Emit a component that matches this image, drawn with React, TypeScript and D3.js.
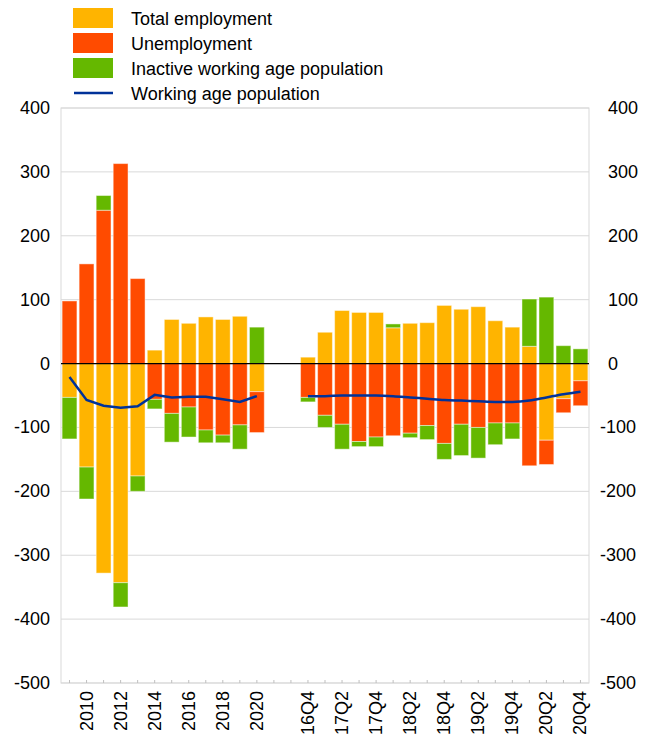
import React, { useRef, useEffect } from "react";
import * as d3 from "d3";

const annualLabels = ["2009", "2010", "2011", "2012", "2013", "2014", "2015", "2016", "2017", "2018", "2019", "2020"];
const quarterLabels = ["16Q4", "17Q1", "17Q2", "17Q3", "17Q4", "18Q1", "18Q2", "18Q3", "18Q4", "19Q1", "19Q2", "19Q3", "19Q4", "20Q1", "20Q2", "20Q3", "20Q4"];
const gapLabels = ["gap1", "gap2"];
const tickLabels = ["2010", "2012", "2014", "2016", "2018", "2020", "16Q4", "17Q2", "17Q4", "18Q2", "18Q4", "19Q2", "19Q4", "20Q2", "20Q4"];

const annualEmployment = [-53, -162, -328, -343, -176, 21, 69, 63, 73, 69, 74, -44];
const annualUnemployment = [98, 156, 240, 313, 133, -56, -78, -68, -104, -112, -96, -64];
const annualInactive = [-65, -50, 23, -38, -24, -15, -45, -47, -20, -12, -38, 57];
const annualWorkingAge = [-21, -57, -66, -69, -67, -49, -53, -52, -52, -56, -60, -51];

const quarterEmployment = [10, 49, 83, 80, 80, 56, 63, 64, 91, 85, 89, 67, 57, 27, -120, -55, -27];
const quarterUnemployment = [-53, -81, -95, -122, -115, -113, -109, -97, -125, -95, -100, -93, -93, -160, -38, -22, -39];
const quarterInactive = [-7, -19, -39, -8, -15, 6, -7, -22, -25, -49, -48, -34, -25, 74, 104, 28, 23];
const quarterWorkingAge = [-51, -51, -50, -50, -50, -51, -53, -55, -57, -58, -59, -60, -60, -58, -53, -48, -44];

const yTicks = [400, 300, 200, 100, 0, -100, -200, -300, -400, -500];

const seriesKeys = ["employment", "unemployment", "inactive"];
const seriesNames = ["Total employment", "Unemployment", "Inactive working age population"];
const seriesColors = ["#ffb400", "#ff4b00", "#65b800"];
const lineColor = "#003299";
const lineName = "Working age population";

const W = 652;
const H = 737;
const margin = { top: 108, right: 63, bottom: 54, left: 61 };
const font = "'Liberation Sans', Arial, Helvetica, sans-serif";

export default function App() {
  const ref = useRef<SVGSVGElement>(null);

  useEffect(() => {
    const svg = d3.select(ref.current);
    svg.selectAll("*").remove();

    const x0 = margin.left;
    const x1 = W - margin.right;
    const y0 = margin.top;
    const y1 = H - margin.bottom;

    const categories = [...annualLabels, ...gapLabels, ...quarterLabels];
    const x = d3.scaleBand<string>().domain(categories).range([x0, x1]).paddingInner(0.13).paddingOuter(0.065);
    const y = d3.scaleLinear().domain([-500, 400]).range([y1, y0]);

    const rows = [
      ...annualLabels.map((c, i) => ({
        cat: c,
        employment: annualEmployment[i],
        unemployment: annualUnemployment[i],
        inactive: annualInactive[i],
      })),
      ...quarterLabels.map((c, i) => ({
        cat: c,
        employment: quarterEmployment[i],
        unemployment: quarterUnemployment[i],
        inactive: quarterInactive[i],
      })),
    ];

    // gridlines
    svg
      .append("g")
      .selectAll("line")
      .data(yTicks)
      .join("line")
      .attr("x1", x0)
      .attr("x2", x1)
      .attr("y1", (d) => y(d))
      .attr("y2", (d) => y(d))
      .attr("stroke", "#d9d9d9")
      .attr("stroke-width", 1);

    // frame
    svg
      .append("rect")
      .attr("x", x0)
      .attr("y", y0)
      .attr("width", x1 - x0)
      .attr("height", y1 - y0)
      .attr("fill", "none")
      .attr("stroke", "#d9d9d9");

    // stacked bars
    const stacked = d3
      .stack<any>()
      .keys(seriesKeys)
      .offset(d3.stackOffsetDiverging)(rows);

    svg
      .append("g")
      .selectAll("g")
      .data(stacked)
      .join("g")
      .attr("fill", (_, i) => seriesColors[i])
      .selectAll("rect")
      .data((d) => d.filter((p) => p[1] !== p[0]))
      .join("rect")
      .attr("x", (d) => x(d.data.cat)!)
      .attr("width", x.bandwidth())
      .attr("y", (d) => y(Math.max(d[0], d[1])))
      .attr("height", (d) => Math.abs(y(d[0]) - y(d[1])))
      .attr("stroke", "rgba(255,255,255,0.45)")
      .attr("stroke-width", 1);

    // zero line
    svg
      .append("line")
      .attr("x1", x0)
      .attr("x2", x1)
      .attr("y1", y(0))
      .attr("y2", y(0))
      .attr("stroke", "#000")
      .attr("stroke-width", 1.2);

    // working age population lines
    const cx = (c: string) => x(c)! + x.bandwidth() / 2;
    const annualLine = d3
      .line<number>()
      .x((_, i) => cx(annualLabels[i]))
      .y((d) => y(d));
    const quarterLine = d3
      .line<number>()
      .x((_, i) => cx(quarterLabels[i]))
      .y((d) => y(d))
      .curve(d3.curveMonotoneX);

    svg
      .append("path")
      .datum(annualWorkingAge)
      .attr("fill", "none")
      .attr("stroke", lineColor)
      .attr("stroke-width", 2.5)
      .attr("d", annualLine);
    svg
      .append("path")
      .datum(quarterWorkingAge)
      .attr("fill", "none")
      .attr("stroke", lineColor)
      .attr("stroke-width", 2.5)
      .attr("d", quarterLine);

    // x ticks
    svg
      .append("g")
      .selectAll("line")
      .data(categories)
      .join("line")
      .attr("x1", (d) => cx(d))
      .attr("x2", (d) => cx(d))
      .attr("y1", y1 - 3)
      .attr("y2", y1)
      .attr("stroke", "#bfbfbf");

    // x labels
    svg
      .append("g")
      .selectAll("text")
      .data(tickLabels)
      .join("text")
      .attr("transform", (d) => `translate(${cx(d) + 6},${y1 + 8}) rotate(-90)`)
      .attr("text-anchor", "end")
      .attr("font-family", font)
      .attr("font-size", 18)
      .attr("fill", "#000")
      .text((d) => d);

    // y labels left
    svg
      .append("g")
      .selectAll("text")
      .data(yTicks)
      .join("text")
      .attr("x", x0 - 11)
      .attr("y", (d) => y(d) + 6)
      .attr("text-anchor", "end")
      .attr("font-family", font)
      .attr("font-size", 18)
      .text((d) => d);

    // y labels right
    svg
      .append("g")
      .selectAll("text")
      .data(yTicks)
      .join("text")
      .attr("x", (d) => (d < 0 ? x1 + 11 : x1 + 19))
      .attr("y", (d) => y(d) + 6)
      .attr("text-anchor", "start")
      .attr("font-family", font)
      .attr("font-size", 18)
      .text((d) => d);

    // legend
    const legend = svg.append("g");
    seriesNames.forEach((name, i) => {
      legend
        .append("rect")
        .attr("x", 73)
        .attr("y", 8 + i * 25)
        .attr("width", 40)
        .attr("height", 20)
        .attr("fill", seriesColors[i]);
      legend
        .append("text")
        .attr("x", 131)
        .attr("y", 25 + i * 25)
        .attr("font-family", font)
        .attr("font-size", 18)
        .text(name);
    });
    legend
      .append("line")
      .attr("x1", 74)
      .attr("x2", 113)
      .attr("y1", 93)
      .attr("y2", 93)
      .attr("stroke", lineColor)
      .attr("stroke-width", 2.5);
    legend
      .append("text")
      .attr("x", 131)
      .attr("y", 100)
      .attr("font-family", font)
      .attr("font-size", 18)
      .text(lineName);
  }, []);

  return (
    <svg
      ref={ref}
      width={W}
      height={H}
      style={{ position: "absolute", left: 0, top: 0, background: "#fff" }}
    />
  );
}
